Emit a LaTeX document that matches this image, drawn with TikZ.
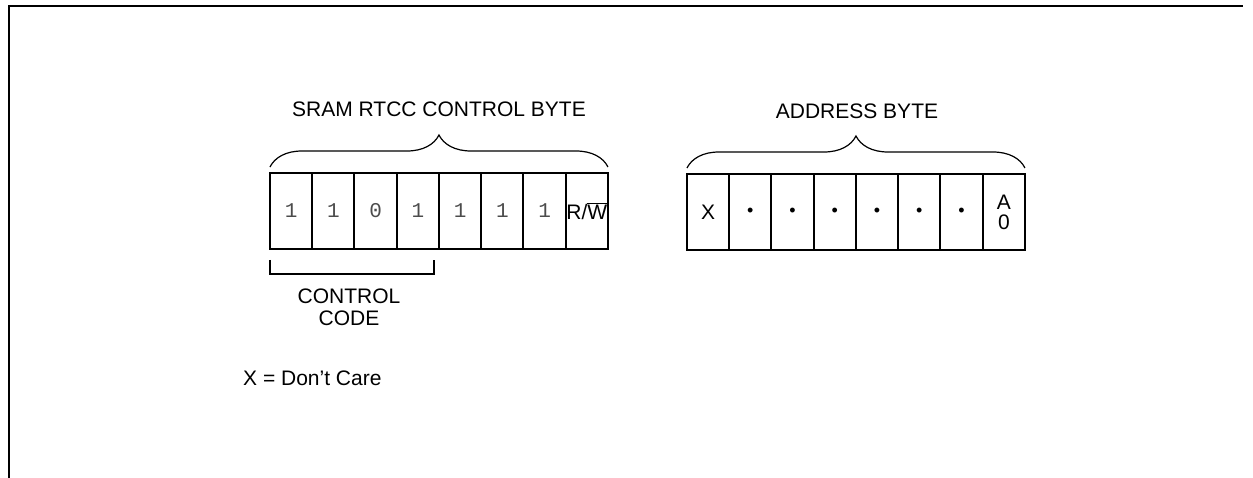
\documentclass[tikz,border=0pt]{standalone}
\usepackage{fontspec}
\setmainfont{Liberation Sans}
\setmonofont{Liberation Mono}
\usetikzlibrary{positioning,decorations.pathreplacing}

\begin{document}
\begin{tikzpicture}[x=1pt,y=-1pt,
  txt/.style={font=\fontsize{21}{22}\selectfont,inner sep=0pt,align=center},
  cell/.style={draw,line width=2pt,outer sep=0pt,inner sep=0pt,minimum width=42.25pt,minimum height=76pt,font=\fontsize{21}{19}\selectfont,align=center},
  bit/.style={cell,font=\fontsize{21}{22}\selectfont\ttfamily,text=black!70},
  brc/.style={decorate,decoration={brace,amplitude=32pt,raise=6pt},line width=1.2pt}]
\useasboundingbox (0,0) rectangle (1253,478);
\draw[line width=2pt] (9,478) -- (9,6) -- (1243,6);
% control byte
\node[bit] (c1) at (291.1,211) {1};
\foreach \i/\b in %
{2/1,3/0,4/1,5/1,6/1,7/1} {
   \pgfmathtruncatemacro{\j}{\i-1}
   \node[bit,right=0pt of c\j] (c\i) {\b};
}
\node[cell,right=0pt of c7] (c8) {R/$\overline{\mbox{W}}$};
\draw[brc] (c1.north west) -- (c8.north east);
\node[txt] (ctrlbyte) at (439,109) {SRAM RTCC CONTROL BYTE};
\draw[line width=2pt] ([yshift=-11pt]c1.south west) -- ++(0,14)
   -| ([xshift=-5pt,yshift=-11pt]c4.south east);
\node[txt] (ctrlcode) at (349,307) {CONTROL\\CODE};
% address byte
\node[cell] (a1) at (708.1,212) {X};
\foreach \i in {2,...,7} {
   \pgfmathtruncatemacro{\j}{\i-1}
   \node[cell,right=0pt of a\j] (a\i) {\fontsize{18}{18}\selectfont\textbullet};
}
\node[cell,right=0pt of a7] (a8) {A\\[1pt]0};
\draw[brc] (a1.north west) -- (a8.north east);
\node[txt] (addrbyte) at (857,111) {ADDRESS BYTE};
\node[txt,anchor=west] (dontcare) at (243,378) {X = Don’t Care};
\end{tikzpicture}
\end{document}
